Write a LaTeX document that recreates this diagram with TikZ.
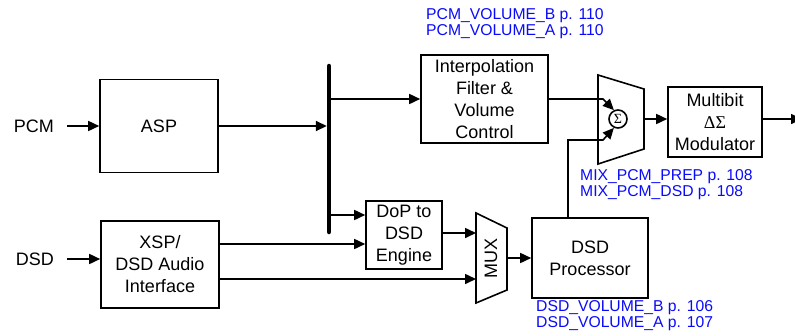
\documentclass[tikz,border=0pt]{standalone}
\usepackage{fontspec}
\setmainfont{Liberation Sans}
\newfontfamily\symf{Liberation Serif}
\usetikzlibrary{arrows.meta,calc}
\definecolor{refblue}{RGB}{10,10,250}
\tikzset{
 blk/.style={draw, line width=1.6pt, inner sep=0pt, align=center, font=\fontsize{18}{22}\selectfont},
 lbl/.style={inner sep=0pt, font=\fontsize{18}{22}\selectfont},
 ref/.style={inner sep=0pt, align=left, text=refblue, anchor=west, font=\fontsize{15.7}{15.5}\selectfont},
 wire/.style={line width=1.6pt},
 arr/.style={wire, -{Triangle[length=11pt,width=10pt]}},
}
\begin{document}
\begin{tikzpicture}[x=1pt,y=-1pt]
\useasboundingbox (0,0) rectangle (795,335);
\clip (0,0) rectangle (795,335);
% blocks
\node[blk, minimum width=118pt, minimum height=93pt] (asp) at (159,126) {ASP};
\node[blk, minimum width=118pt, minimum height=87pt] (xsp) at (160,264.5) {XSP/\\DSD Audio\\Interface};
\node[blk, minimum width=127pt, minimum height=88pt] (interp) at (484.5,99) {Interpolation\\Filter \&\\Volume\\Control};
\node[blk, minimum width=76pt, minimum height=68pt] (dop) at (404,235) {DoP to\\DSD\\Engine};
\node[blk, minimum width=116pt, minimum height=80pt] (dsdp) at (590,258) {DSD\\Processor};
\node[blk, minimum width=94pt, minimum height=70pt] (mbit) at (715,122) {Multibit\\{\symf ΔΣ}\\Modulator};
% input labels
\node[lbl, anchor=east] (pcm) at (54,126) {PCM};
\node[lbl, anchor=east] (dsd) at (54,259) {DSD};
% bus
\coordinate (bt) at (329,66);
\coordinate (bb) at (329,232);
\draw[line width=4.5pt, line cap=round] (bt) -- (bb);
% rows
\coordinate (r215) at (0,215);
\coordinate (r233) at (0,233);
\coordinate (r244) at (0,244);
\coordinate (r279) at (0,279);
% MUX
\draw[wire] (476,213) -- (507,228) -- (507,290) -- (476,303) -- cycle;
\coordinate (muxL) at (476,258);
\coordinate (muxR) at (507,258);
\node[lbl, rotate=90] (muxt) at (491,258) {MUX};
% summer
\draw[wire] (598,75) -- (644,89) -- (644,149) -- (598,164) -- cycle;
\node[draw, circle, line width=1.6pt, minimum size=18pt, inner sep=0pt, font=\symf\fontsize{14}{14}\selectfont] (sig) at (618,119) {Σ};
\coordinate (sumR) at (644,119);
\coordinate (j1) at (603,99);
\coordinate (j2) at (603,140);
\coordinate (c568) at (568,0);
\coordinate (outE) at (802,119);
% connectors
\draw[arr] ([xshift=13pt]pcm.east) -- (pcm.east -| asp.west);
\draw[arr] ([xshift=13pt]dsd.east) -- (dsd.east -| xsp.west);
\draw[arr, shorten >=2.2pt] (asp.east) -- (asp.east -| bt);
\draw[arr] (bt |- interp.west) -- (interp.west);
\draw[arr] (bt |- r215) -- (dop.west |- r215);
\draw[arr] (xsp.east |- r244) -- (dop.west |- r244);
\draw[arr] (dop.east |- r233) -- (muxL |- r233);
\draw[arr] (xsp.east |- r279) -- (muxL |- r279);
\draw[arr] (muxR) -- (dsdp.west);
\draw[arr] (interp.east |- j1) -- (j1) -- (sig.115);
\draw[arr] (dsdp.north -| c568) -- (c568 |- j2) -- (j2) -- (sig.245);
\draw[arr] (sumR) -- (sumR -| mbit.west);
\draw[arr] (mbit.east |- sumR) -- (outE);
% register references
\node[ref] (pv) at (426,23.5) {PCM\_VOLUME\_B p. 110\\PCM\_VOLUME\_A p. 110};
\node[ref] (mv) at (580,184.5) {MIX\_PCM\_PREP p. 108\\MIX\_PCM\_DSD p. 108};
\node[ref] (dv) at (536,315.5) {DSD\_VOLUME\_B p. 106\\DSD\_VOLUME\_A p. 107};
\end{tikzpicture}
\end{document}
